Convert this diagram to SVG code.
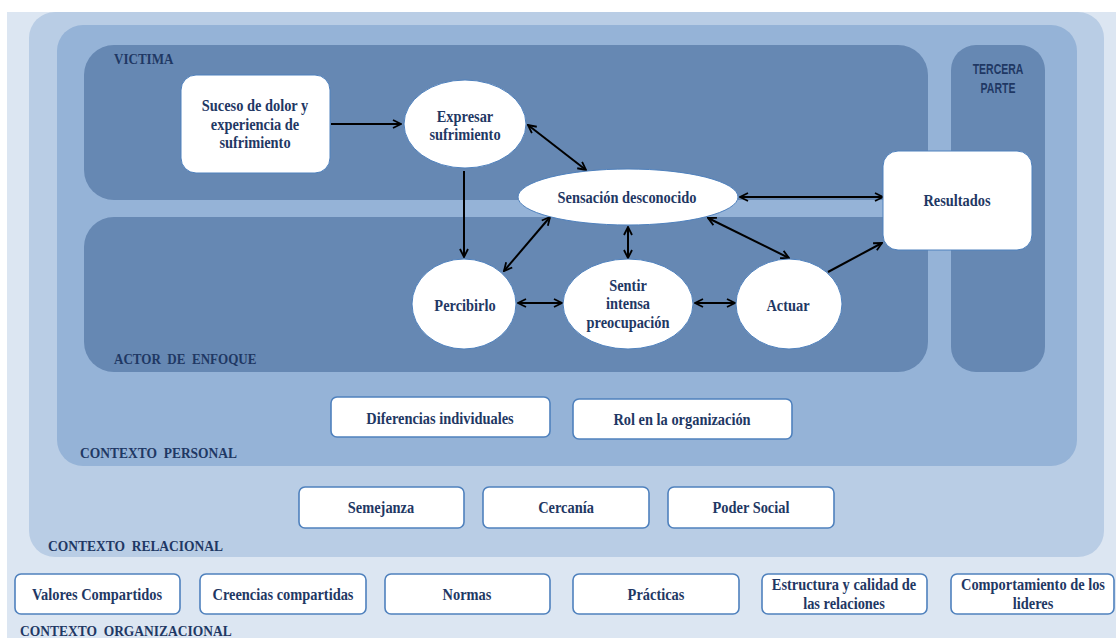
<svg xmlns="http://www.w3.org/2000/svg" width="1116" height="638" viewBox="0 0 1116 638">
<defs>
<style>
.t{font-family:"Liberation Serif","DejaVu Serif",serif;font-weight:bold;fill:#1f3864;text-anchor:middle;font-size:16px}
.lab{font-family:"Liberation Serif","DejaVu Serif",serif;font-weight:bold;fill:#1f3864;font-size:15px;white-space:pre}
.sans{font-family:"Liberation Sans","DejaVu Sans",sans-serif;font-weight:bold;fill:#1f3864;font-size:15px;text-anchor:middle}
.box{fill:#fff;stroke:#4f81bd;stroke-width:1.6}
.nd{fill:#fff;stroke:#4f81bd;stroke-width:1}
.ar{stroke:#000;stroke-width:2;fill:none}
</style>
<marker id="ah" viewBox="0 0 10 10" refX="9" refY="5" markerWidth="10" markerHeight="10" markerUnits="userSpaceOnUse" orient="auto-start-reverse">
<path d="M1,1 L9,5 L1,9" fill="none" stroke="#000" stroke-width="1.8"/>
</marker>
</defs>
<rect width="1116" height="638" fill="#fff"/>
<g id="contexto-organizacional">
<rect x="7" y="12" width="1109" height="626" fill="#dce6f2"/>
<text class="lab" transform="translate(20,636) scale(0.9,1)">CONTEXTO  ORGANIZACIONAL</text>
</g>
<g id="contexto-relacional">
<rect x="29" y="12" width="1075" height="545" rx="26" fill="#b9cde5"/>
<text class="lab" transform="translate(48,551) scale(0.9,1)">CONTEXTO  RELACIONAL</text>
</g>
<g id="contexto-personal">
<rect x="57" y="25" width="1020" height="441" rx="26" fill="#95b3d7"/>
<text class="lab" transform="translate(80,458) scale(0.9,1)">CONTEXTO  PERSONAL</text>
</g>
<g id="victima">
<rect x="84" y="45" width="844" height="155" rx="30" fill="#6688b3"/>
<text class="lab" transform="translate(114,64) scale(0.9,1)" style="font-size:14.5px">VICTIMA</text>
</g>
<g id="actor-de-enfoque">
<rect x="84" y="217" width="844" height="155" rx="30" fill="#6688b3"/>
<text class="lab" transform="translate(114,364) scale(0.9,1)" style="font-size:14.5px">ACTOR  DE  ENFOQUE</text>
</g>
<g id="tercera-parte">
<rect x="951" y="45" width="94" height="327" rx="25" fill="#6688b3"/>
<text class="sans" transform="translate(998,74) scale(0.7,1)">TERCERA</text>
<text class="sans" transform="translate(998,93) scale(0.7,1)">PARTE</text>
</g>
<g id="connectors">
<line class="ar" x1="331" y1="124" x2="401" y2="124" marker-end="url(#ah)"/>
<line class="ar" x1="464" y1="171" x2="464" y2="257" marker-end="url(#ah)"/>
<line class="ar" x1="528" y1="125" x2="586" y2="170" marker-start="url(#ah)" marker-end="url(#ah)"/>
<line class="ar" x1="504" y1="271" x2="550" y2="217" marker-start="url(#ah)" marker-end="url(#ah)"/>
<line class="ar" x1="628" y1="227" x2="628" y2="258" marker-start="url(#ah)" marker-end="url(#ah)"/>
<line class="ar" x1="708" y1="218" x2="789" y2="258" marker-start="url(#ah)" marker-end="url(#ah)"/>
<line class="ar" x1="740" y1="197" x2="883" y2="197" marker-start="url(#ah)" marker-end="url(#ah)"/>
<line class="ar" x1="828" y1="272" x2="882" y2="243" marker-end="url(#ah)"/>
<line class="ar" x1="518" y1="303" x2="562" y2="303" marker-start="url(#ah)" marker-end="url(#ah)"/>
<line class="ar" x1="695" y1="303" x2="735" y2="303" marker-start="url(#ah)" marker-end="url(#ah)"/>
</g>
<g id="suceso">
<rect class="nd" x="181" y="75" width="149" height="98" rx="15"/>
<text class="t" transform="translate(255,111) scale(0.9,1)">Suceso de dolor y</text>
<text class="t" transform="translate(255,130) scale(0.9,1)">experiencia de</text>
<text class="t" transform="translate(255,148) scale(0.9,1)">sufrimiento</text>
</g>
<g id="expresar">
<ellipse class="nd" cx="465" cy="124" rx="61" ry="44"/>
<text class="t" transform="translate(465,122) scale(0.9,1)">Expresar</text>
<text class="t" transform="translate(465,140) scale(0.9,1)">sufrimiento</text>
</g>
<g id="sensacion">
<ellipse class="nd" cx="628" cy="197" rx="110" ry="28"/>
<text class="t" transform="translate(627,203) scale(0.9,1)">Sensación desconocido</text>
</g>
<g id="resultados">
<rect class="nd" x="883" y="151" width="149" height="99" rx="15"/>
<text class="t" transform="translate(957,206) scale(0.9,1)">Resultados</text>
</g>
<g id="percibirlo">
<ellipse class="nd" cx="464" cy="304" rx="52" ry="45"/>
<text class="t" transform="translate(465,311) scale(0.9,1)">Percibirlo</text>
</g>
<g id="sentir">
<ellipse class="nd" cx="628" cy="304" rx="65" ry="45"/>
<text class="t" transform="translate(628,291) scale(0.9,1)">Sentir</text>
<text class="t" transform="translate(628,309) scale(0.9,1)">intensa</text>
<text class="t" transform="translate(628,328) scale(0.9,1)">preocupación</text>
</g>
<g id="actuar">
<ellipse class="nd" cx="789" cy="304" rx="53" ry="45"/>
<text class="t" transform="translate(788,311) scale(0.9,1)">Actuar</text>
</g>
<g id="diferencias">
<rect class="box" x="331" y="397" width="219" height="40" rx="6"/>
<text class="t" transform="translate(440,424) scale(0.9,1)">Diferencias individuales</text>
</g>
<g id="rol">
<rect class="box" x="573" y="399" width="219" height="40" rx="6"/>
<text class="t" transform="translate(682,425) scale(0.9,1)">Rol en la organización</text>
</g>
<g id="semejanza">
<rect class="box" x="299" y="487" width="165" height="41" rx="6"/>
<text class="t" transform="translate(381,513) scale(0.9,1)">Semejanza</text>
</g>
<g id="cercania">
<rect class="box" x="483" y="487" width="166" height="41" rx="6"/>
<text class="t" transform="translate(566,513) scale(0.9,1)">Cercanía</text>
</g>
<g id="poder-social">
<rect class="box" x="668" y="487" width="166" height="41" rx="6"/>
<text class="t" transform="translate(751,513) scale(0.9,1)">Poder Social</text>
</g>
<g id="valores">
<rect class="box" x="15" y="574" width="165" height="40" rx="6"/>
<text class="t" transform="translate(97,600) scale(0.9,1)">Valores Compartidos</text>
</g>
<g id="creencias">
<rect class="box" x="200" y="574" width="166" height="40" rx="6"/>
<text class="t" transform="translate(283,600) scale(0.9,1)">Creencias compartidas</text>
</g>
<g id="normas">
<rect class="box" x="385" y="574" width="165" height="40" rx="6"/>
<text class="t" transform="translate(467,600) scale(0.9,1)">Normas</text>
</g>
<g id="practicas">
<rect class="box" x="573" y="574" width="166" height="40" rx="6"/>
<text class="t" transform="translate(656,600) scale(0.9,1)">Prácticas</text>
</g>
<g id="estructura">
<rect class="box" x="762" y="574" width="165" height="40" rx="6"/>
<text class="t" transform="translate(844,590) scale(0.9,1)">Estructura y calidad de</text>
<text class="t" transform="translate(844,609) scale(0.9,1)">las relaciones</text>
</g>
<g id="comportamiento">
<rect class="box" x="951" y="574" width="163" height="40" rx="6"/>
<text class="t" transform="translate(1033,590) scale(0.9,1)">Comportamiento de los</text>
<text class="t" transform="translate(1033,609) scale(0.9,1)">lideres</text>
</g>
</svg>
